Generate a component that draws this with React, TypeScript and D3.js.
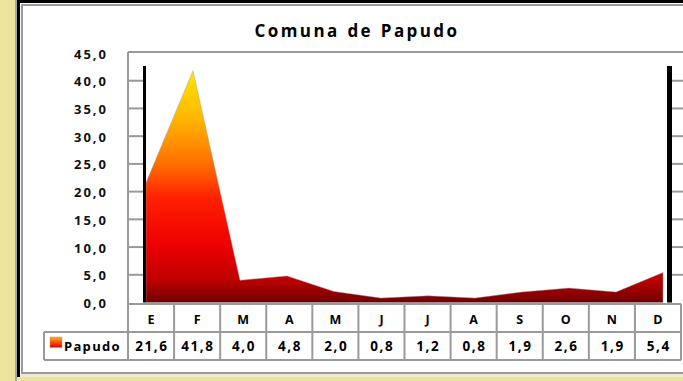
import React from "react";
import * as d3 from "d3";

const months = ["E", "F", "M", "A", "M", "J", "J", "A", "S", "O", "N", "D"];
const values = [21.6, 41.8, 4.0, 4.8, 2.0, 0.8, 1.2, 0.8, 1.9, 2.6, 1.9, 5.4];
const yTicks = [0, 5, 10, 15, 20, 25, 30, 35, 40, 45];
const seriesName = "Papudo";
const title = "Comuna de Papudo";

const W = 683;
const H = 381;
const FONT = "'Open Sans', 'DejaVu Sans', sans-serif";

export default function App() {
  const y = d3.scaleLinear().domain([0, 45]).range([302.5, 53]);
  const idx = months.map((_, i) => i);
  const x = d3.scalePoint<number>().domain(idx).range([146, 663]);
  const plotLeft = 128;
  const tableRight = 681;
  const colW = (tableRight - plotLeft) / months.length;
  const row1 = [304, 332];
  const row2 = [332, 360];

  const area = d3
    .area<number>()
    .x((_, i) => x(i) as number)
    .y0(y(0))
    .y1((d) => y(d));

  const fmt = (v: number) => v.toFixed(1).replace(".", ",");

  return (
    <div style={{ position: "absolute", left: 0, top: 0, width: W, height: H }}>
      <svg width={W} height={H} style={{ display: "block" }}>
        <defs>
          <linearGradient id="areaGrad" gradientUnits="userSpaceOnUse" x1="0" y1={y(41.8)} x2="0" y2={y(0)}>
            <stop offset="0" stopColor="#FFE600" />
            <stop offset="0.2" stopColor="#FFB800" />
            <stop offset="0.4" stopColor="#FF7000" />
            <stop offset="0.55" stopColor="#FF2000" />
            <stop offset="0.75" stopColor="#EE0000" />
            <stop offset="0.9" stopColor="#C00000" />
            <stop offset="1" stopColor="#700000" />
          </linearGradient>
          <linearGradient id="legGrad" x1="0" y1="0" x2="0" y2="1">
            <stop offset="0" stopColor="#FFB020" />
            <stop offset="0.5" stopColor="#FF5000" />
            <stop offset="1" stopColor="#D00000" />
          </linearGradient>
        </defs>
        {/* background */}
        <rect x={0} y={0} width={W} height={H} fill="#ffffff" />
        <rect x={0} y={0} width={15} height={H} fill="#ECE49C" />
        <rect x={15} y={0} width={2} height={H} fill="#A8A8A8" />
        <rect x={17} y={0} width={3} height={377} fill="#000000" />
        <rect x={17} y={0} width={W - 17} height={3} fill="#000000" />
        <rect x={21} y={4} width={W - 21} height={2} fill="#9A9A9A" />
        <rect x={21} y={4} width={2} height={371} fill="#9A9A9A" />
        <rect x={21} y={372} width={W - 21} height={2} fill="#9A9A9A" />
        <rect x={20} y={374} width={W - 20} height={3} fill="#EEEAD6" />
        <rect x={17} y={377} width={W - 17} height={4} fill="#ECE49C" />

        {/* title */}
        <text x={357} y={37} textAnchor="middle" fontFamily={FONT} fontWeight={700} fontSize={17} letterSpacing={2.4} wordSpacing={1} fill="#000">
          {title}
        </text>

        {/* plot frame */}
        <line x1={plotLeft} x2={W} y1={52} y2={52} stroke="#999" strokeWidth={2} />
        <line x1={plotLeft} x2={plotLeft} y1={52} y2={304} stroke="#999" strokeWidth={2} />

        {/* tick stubs */}
        {yTicks.filter((t) => t > 0 && t < 45).map((t) => (
          <g key={t}>
            <line x1={plotLeft} x2={143} y1={y(t)} y2={y(t)} stroke="#999" strokeWidth={2} />
            <line x1={672} x2={W} y1={y(t)} y2={y(t)} stroke="#999" strokeWidth={2} />
          </g>
        ))}

        {/* y labels */}
        {yTicks.map((t) => (
          <text key={t} x={108} y={y(t) + 5.5} textAnchor="end" fontFamily={FONT} fontWeight={700} fontSize={13} letterSpacing={2} fill="#111">
            {fmt(t)}
          </text>
        ))}

        {/* area */}
        <path d={area(values) || ""} fill="url(#areaGrad)" stroke="#9aa0b0" strokeWidth={0.8} strokeOpacity={0.6} />

        {/* vertical black bars */}
        <rect x={143} y={66} width={3} height={y(0) - 66} fill="#000" />
        <rect x={667} y={66} width={5} height={y(0) - 66} fill="#000" />

        {/* data table */}
        <g fill="none" stroke="#9A9A9A" strokeWidth={2}>
          <line x1={plotLeft} x2={tableRight} y1={row1[0]} y2={row1[0]} />
          <line x1={44} x2={tableRight} y1={row2[0]} y2={row2[0]} />
          <line x1={44} x2={tableRight} y1={row2[1]} y2={row2[1]} />
          <line x1={44} x2={44} y1={row2[0]} y2={row2[1]} />
          {d3.range(months.length + 1).map((i) => (
            <line key={i} x1={plotLeft + i * colW} x2={plotLeft + i * colW} y1={row1[0]} y2={row2[1]} />
          ))}
        </g>
        {months.map((m, i) => (
          <text key={"m" + i} x={plotLeft + (i + 0.5) * colW} y={324} textAnchor="middle" fontFamily={FONT} fontWeight={700} fontSize={12.5} fill="#000">
            {m}
          </text>
        ))}
        {values.map((v, i) => (
          <text key={"v" + i} x={plotLeft + (i + 0.5) * colW + 0.8} y={350.5} textAnchor="middle" fontFamily={FONT} fontWeight={700} fontSize={13.5} letterSpacing={1.6} fill="#000">
            {fmt(v)}
          </text>
        ))}
        <rect x={50} y={337} width={12} height={10.5} fill="url(#legGrad)" stroke="#B0A080" strokeWidth={0.5} />
        <text x={64} y={350.5} fontFamily={FONT} fontWeight={700} fontSize={13} letterSpacing={1.3} fill="#000">
          {seriesName}
        </text>
      </svg>
    </div>
  );
}
